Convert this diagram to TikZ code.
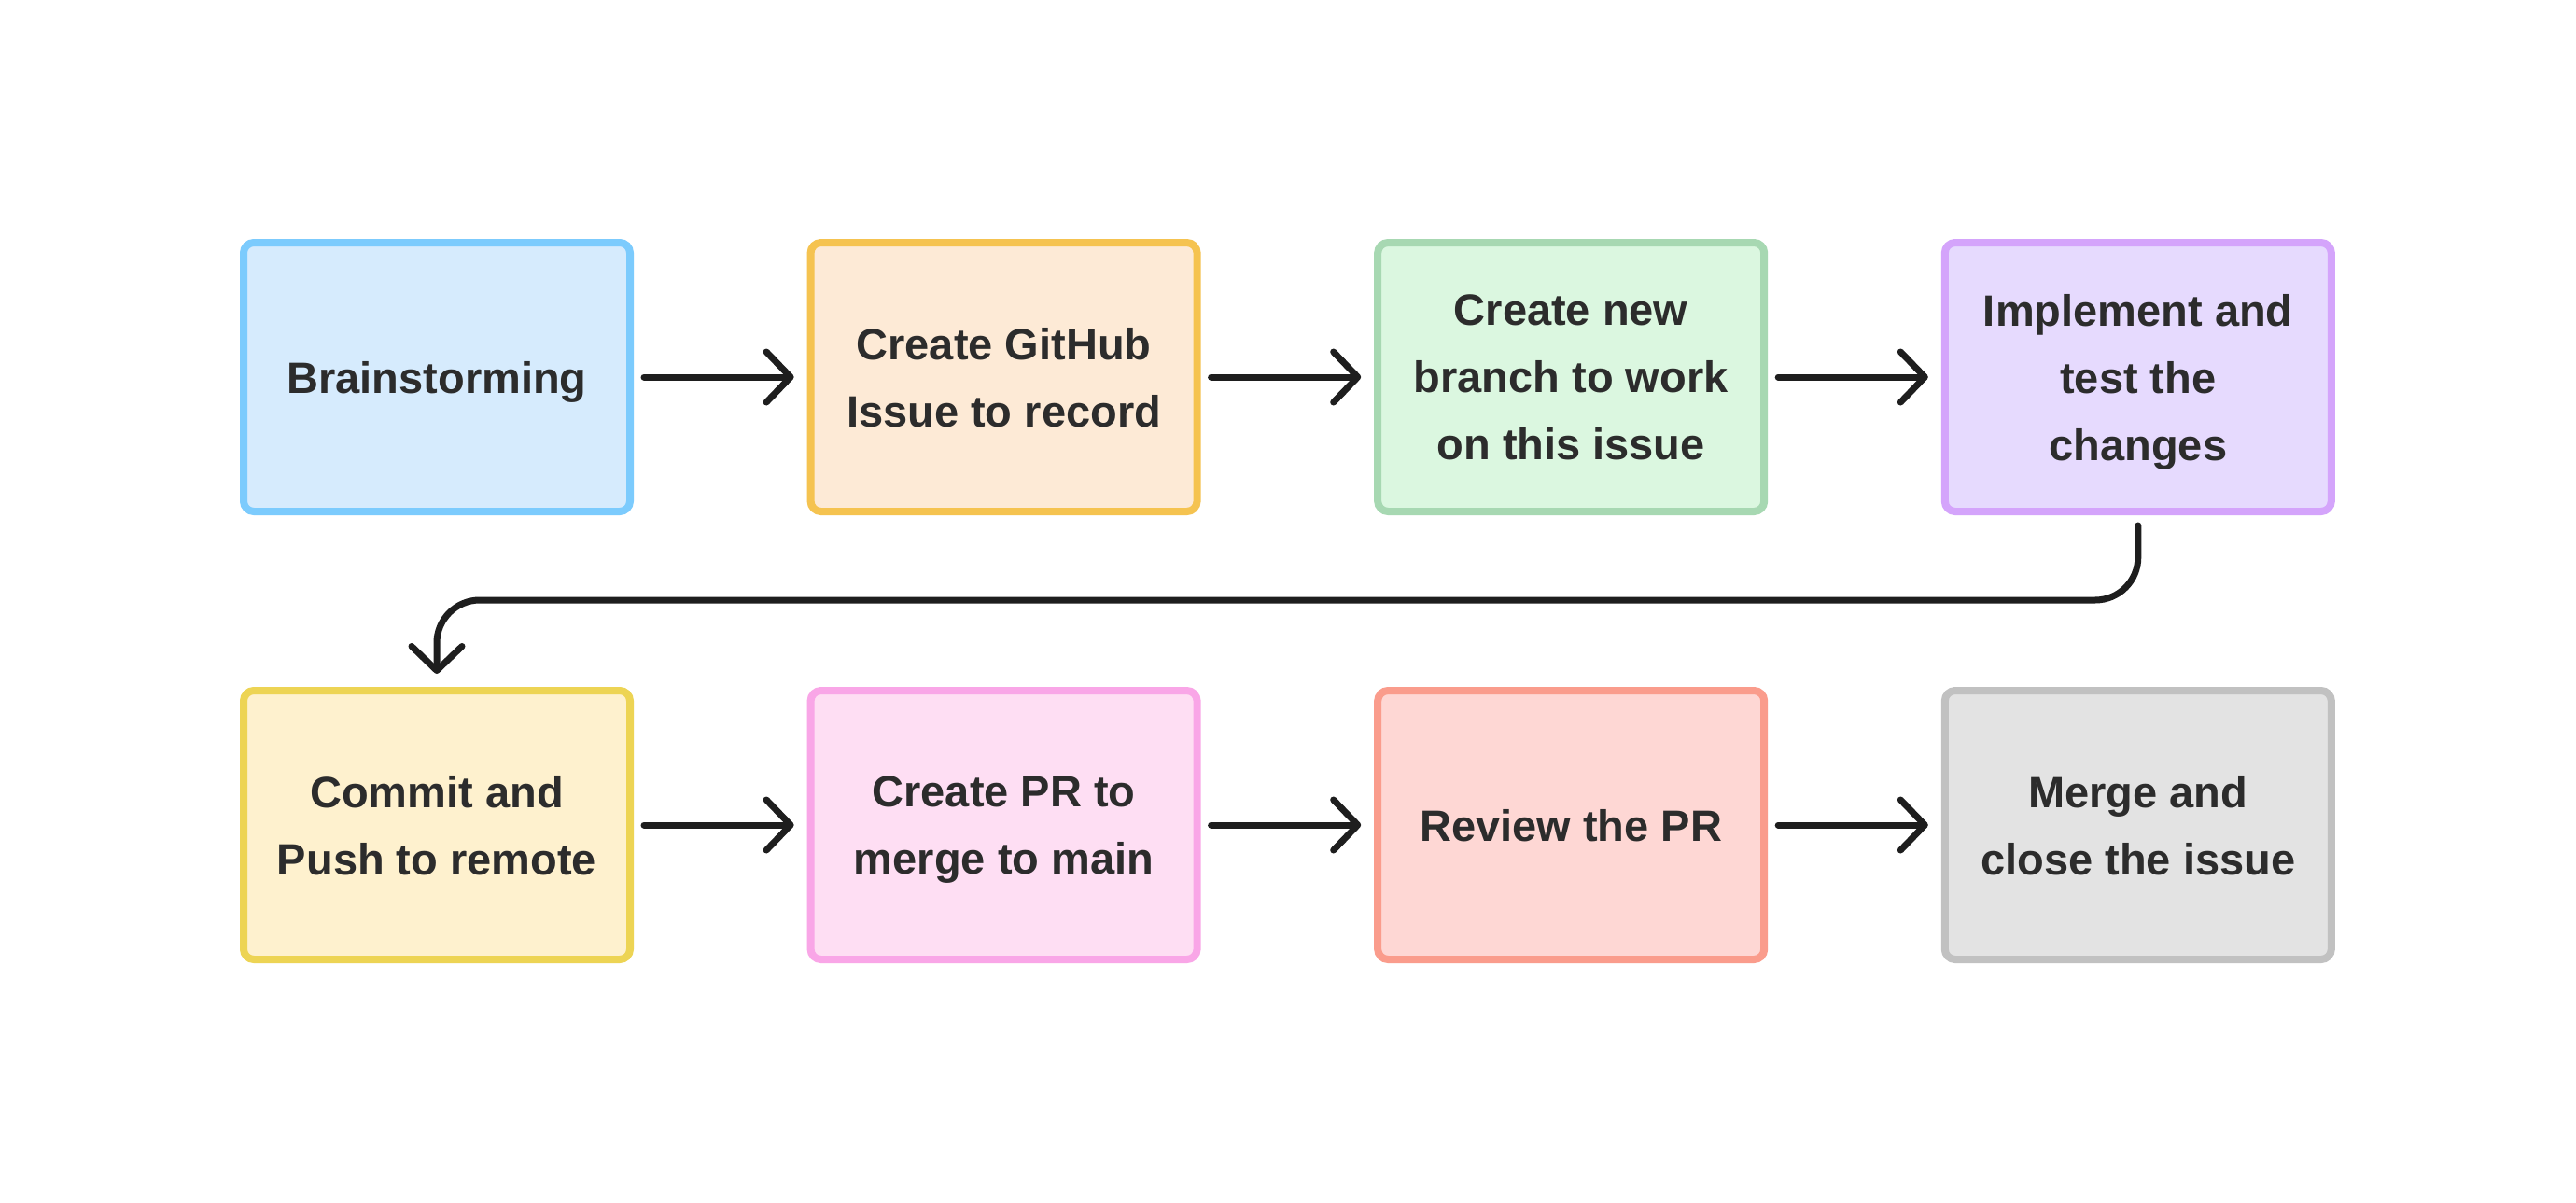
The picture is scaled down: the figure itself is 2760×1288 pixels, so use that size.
\documentclass[tikz,border=0pt]{standalone}
\usepackage{fontspec}
\setmainfont{Liberation Sans}
\usetikzlibrary{arrows.meta}
\definecolor{txt}{HTML}{2C2C2C}
\definecolor{arrc}{HTML}{1E1E1E}
\definecolor{bF}{HTML}{D6EBFD}\definecolor{bS}{HTML}{7CCBFD}
\definecolor{oF}{HTML}{FDEAD6}\definecolor{oS}{HTML}{F5C350}
\definecolor{gF}{HTML}{DBF7E0}\definecolor{gS}{HTML}{A7D8B2}
\definecolor{pF}{HTML}{E6DAFE}\definecolor{pS}{HTML}{D4A4FB}
\definecolor{yF}{HTML}{FEF1CE}\definecolor{yS}{HTML}{EDD454}
\definecolor{kF}{HTML}{FEDEF3}\definecolor{kS}{HTML}{F9A6E7}
\definecolor{rF}{HTML}{FED7D4}\definecolor{rS}{HTML}{FA9C8C}
\definecolor{eF}{HTML}{E3E3E3}\definecolor{eS}{HTML}{C1C1C1}
\tikzset{
  stepbox/.style={rectangle, rounded corners=11pt, line width=8pt, outer sep=0pt,
    minimum width=414pt, minimum height=288pt, align=center, text=txt,
    text depth=0pt,
    font=\fontsize{47}{72}\selectfont\bfseries},
  arr/.style={draw=arrc, line width=7pt, line cap=round,
    -{Straight Barb[length=26pt,width=54pt,round]},
    shorten <=15pt, shorten >=18pt},
}
\begin{document}
\begin{tikzpicture}[x=1pt,y=-1pt]
\fill[white] (0,0) rectangle (2760,1288);
\useasboundingbox (0,0) rectangle (2760,1288);
\node[stepbox, fill=bF, draw=bS] (a) at (468,404) {Brainstorming};
\node[stepbox, fill=oF, draw=oS] (b) at (1075.6,404) {Create GitHub\\Issue to record};
\node[stepbox, fill=gF, draw=gS] (c) at (1683.2,404) {Create new\\branch to work\\on this issue};
\node[stepbox, fill=pF, draw=pS] (d) at (2290.8,404) {Implement and\\test the\\changes};
\node[stepbox, fill=yF, draw=yS] (e) at (468,884) {Commit and\\Push to remote};
\node[stepbox, fill=kF, draw=kS] (f) at (1075.6,884) {Create PR to\\merge to main};
\node[stepbox, fill=rF, draw=rS] (g) at (1683.2,884) {Review the PR};
\node[stepbox, fill=eF, draw=eS] (h) at (2290.8,884) {Merge and\\close the issue};
\draw[arr] (a.east) -- (b.west);
\draw[arr] (b.east) -- (c.west);
\draw[arr] (c.east) -- (d.west);
\draw[arr, rounded corners=46pt] (d.south) -- ++(0,95) -| (e.north);
\draw[arr] (e.east) -- (f.west);
\draw[arr] (f.east) -- (g.west);
\draw[arr] (g.east) -- (h.west);
\end{tikzpicture}
\end{document}
